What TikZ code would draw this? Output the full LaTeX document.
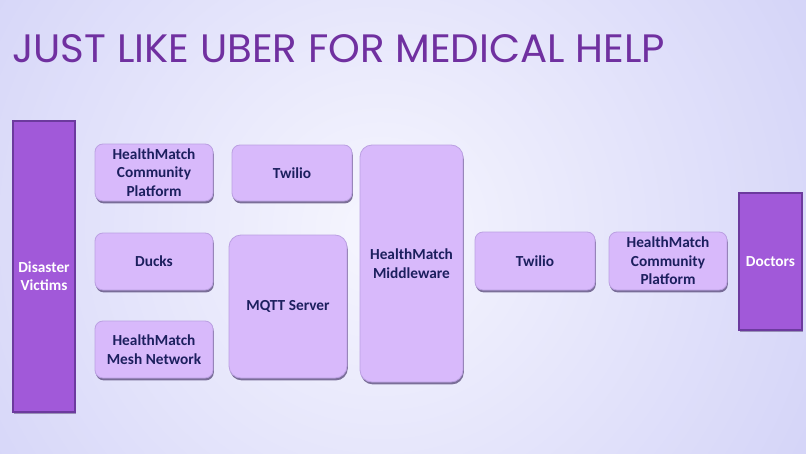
\documentclass[tikz,border=0pt]{standalone}
\usepackage{fontspec}
\setmainfont{Carlito}
\newfontfamily\titlefont{Poppins}
\usepackage{tikz}
\usetikzlibrary{shadows}

\definecolor{bgedge}{HTML}{C4C4F5}
\definecolor{bgmid}{HTML}{F6F6FE}
\definecolor{titlepurple}{HTML}{7030A0}
\definecolor{boxfill}{HTML}{D8B9FB}
\definecolor{boxline}{HTML}{BBA0E2}
\definecolor{barfill}{HTML}{A159D9}
\definecolor{barline}{HTML}{6C3A9E}
\definecolor{navytext}{HTML}{1C1F5E}
\definecolor{shadowcol}{HTML}{554577}

\tikzset{
  lightbox/.style={draw=boxline, line width=0.6pt, fill=boxfill, rounded corners=6pt,
    align=center, font=\bfseries\fontsize{11.5}{13.8}\selectfont, text=navytext,
    drop shadow={shadow xshift=0.6pt, shadow yshift=-1.8pt, opacity=0.75, fill=shadowcol}},
  darkbar/.style={draw=barline, line width=1.2pt, fill=barfill,
    align=center, font=\bfseries\fontsize{11.5}{13.8}\selectfont, text=white,
    drop shadow={shadow xshift=0.6pt, shadow yshift=-1.2pt, opacity=0.5, fill=shadowcol}}
}

\begin{document}
\begin{tikzpicture}[x=0.75pt,y=-0.75pt]

\useasboundingbox (0,0) rectangle (806,453);
\begin{scope}
\clip (0,0) rectangle (806,453);
\fill[bgedge] (0,0) rectangle (806,453);
\shade[inner color=bgmid, outer color=bgedge] (380,230) circle (720);
\end{scope}

\node[anchor=base west, text=titlepurple, inner sep=0pt] (title) at (12,63)
  {\resizebox{489.75pt}{21pt}{\titlefont JUST LIKE UBER FOR MEDICAL HELP}};

% left side
\node[darkbar, minimum width=46.5pt, minimum height=218.25pt] (victims) at (44,266.5) {\\[9pt]Disaster\\Victims};

\node[lightbox, minimum width=88.5pt, minimum height=42.75pt] (hmcp) at (154,172.5) {HealthMatch\\Community\\Platform};
\node[lightbox, minimum width=88.5pt, minimum height=42.75pt] (ducks) at (154,261.5) {Ducks};
\node[lightbox, minimum width=88.5pt, minimum height=42.75pt] (mesh) at (154,349.5) {HealthMatch\\Mesh Network};

\node[lightbox, minimum width=90pt, minimum height=42pt] (twilioa) at (292,173) {Twilio};
\node[lightbox, rounded corners=9pt, minimum width=88.5pt, minimum height=107.25pt] (mqtt) at (288,306.5) {MQTT Server};

\node[lightbox, rounded corners=9pt, minimum width=77.25pt, minimum height=177.75pt] (middleware) at (411.5,263.5) {HealthMatch\\Middleware};

% right side
\node[lightbox, minimum width=90pt, minimum height=43.5pt] (twiliob) at (535,261) {Twilio};
\node[lightbox, minimum width=88.5pt, minimum height=43.5pt] (hmcpb) at (668,261) {HealthMatch\\Community\\Platform};
\node[darkbar, minimum width=47.25pt, minimum height=102.75pt] (doctors) at (770.5,261.5) {Doctors};

\end{tikzpicture}
\end{document}
